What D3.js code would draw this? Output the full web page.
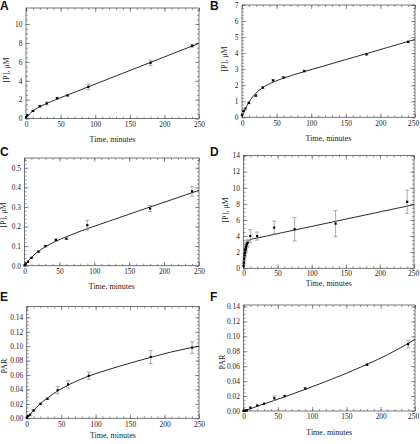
<!DOCTYPE html>
<html><head><meta charset="utf-8">
<script src="https://cdn.jsdelivr.net/npm/d3@7"></script>
<style>body{margin:0;background:#fff}svg{display:block}</style>
</head><body>
<svg id="c" width="420" height="444"></svg>
<script>
// ---------- shared ----------
const timeTicks = [0, 50, 100, 150, 200, 250];
const xLabel = "Time, minutes";
const yLabelP = "[P], \u03bcM";
const yLabelPAR = "PAR";

// ---------- Panel A ----------
const timesA = [0, 2, 10, 20, 30, 45, 60, 90, 180, 240];
const valuesA = [0.12, 0.35, 0.8, 1.3, 1.6, 2.15, 2.45, 3.35, 5.9, 7.7];
const errorsA = [0, 0, 0.05, 0.08, 0.15, 0.08, 0.08, 0.3, 0.28, 0.15];
const fitTimesA = [0, 2, 5, 10, 15, 20, 30, 45, 60, 90, 120, 150, 180, 210, 250];
const fitValuesA = [0, 0.21, 0.47, 0.8, 1.05, 1.25, 1.6, 2.05, 2.49, 3.35, 4.22, 5.08, 5.94, 6.81, 7.96];
const yTicksA = [0, 2, 4, 6, 8, 10];

// ---------- Panel B ----------
const timesB = [0, 2, 5, 10, 20, 30, 45, 60, 90, 180, 240];
const valuesB = [0.15, 0.4, 0.55, 0.9, 1.35, 1.85, 2.3, 2.48, 2.88, 3.93, 4.7];
const errorsB = [0, 0, 0, 0.05, 0.05, 0.05, 0.05, 0.05, 0.05, 0.05, 0.05];
const fitTimesB = [0, 2, 5, 10, 15, 20, 30, 45, 60, 90, 120, 150, 180, 210, 250];
const fitValuesB = [0, 0.23, 0.54, 0.94, 1.26, 1.5, 1.85, 2.19, 2.44, 2.85, 3.22, 3.6, 3.97, 4.35, 4.85];
const yTicksB = [0, 1, 2, 3, 4, 5, 6, 7];

// ---------- Panel C ----------
const timesC = [0, 2, 5, 10, 20, 30, 45, 60, 90, 180, 240];
const valuesC = [0.002, 0.01, 0.02, 0.04, 0.072, 0.1, 0.131, 0.138, 0.207, 0.292, 0.38];
const errorsC = [0, 0, 0, 0.003, 0.004, 0.004, 0.006, 0.004, 0.025, 0.015, 0.025];
const fitTimesC = [0, 2, 5, 10, 15, 20, 30, 45, 60, 90, 120, 150, 180, 210, 250];
const fitValuesC = [0, 0.0095, 0.023, 0.042, 0.059, 0.073, 0.097, 0.125, 0.148, 0.189, 0.226, 0.263, 0.3, 0.336, 0.385];
const yTicksC = [0, 0.1, 0.2, 0.3, 0.4, 0.5];

// ---------- Panel D ----------
const timesD = [0, 0.5, 1, 1.5, 2, 2.5, 3, 3.5, 4, 5, 6, 10, 20, 45, 75, 135, 240];
const valuesD = [0.3, 0.7, 1.2, 1.6, 1.9, 2.2, 2.4, 2.6, 2.8, 3.0, 3.15, 4.0, 4.0, 5.05, 4.85, 5.55, 8.25];
const errorsD = [0, 0.1, 0.15, 0.2, 0.3, 0.3, 0.3, 0.4, 0.4, 0.4, 0.4, 0.8, 0.5, 0.8, 1.45, 1.6, 1.45];
const fitTimesD = [0, 1, 2, 3, 4, 6, 8, 10, 15, 20, 50, 100, 150, 200, 250];
const fitValuesD = [0, 1.0, 1.8, 2.4, 2.8, 3.25, 3.45, 3.55, 3.68, 3.76, 4.3, 5.2, 6.1, 7.0, 7.9];
const yTicksD = [0, 2, 4, 6, 8, 10, 12, 14];

// ---------- Panel E ----------
const timesE = [0, 2, 5, 10, 20, 30, 45, 60, 90, 180, 240];
const valuesE = [0.001, 0.003, 0.005, 0.011, 0.02, 0.027, 0.039, 0.047, 0.059, 0.085, 0.098];
const errorsE = [0, 0, 0, 0.001, 0.001, 0.001, 0.005, 0.005, 0.005, 0.009, 0.008];
const fitTimesE = [0, 5, 10, 20, 30, 45, 60, 90, 120, 150, 180, 210, 250];
const fitValuesE = [0, 0.0055, 0.011, 0.0205, 0.028, 0.038, 0.046, 0.0585, 0.068, 0.0765, 0.0845, 0.092, 0.1];
const yTicksE = [0, 0.02, 0.04, 0.06, 0.08, 0.1, 0.12, 0.14];

// ---------- Panel F ----------
const timesF = [0, 2, 5, 10, 20, 30, 45, 60, 90, 180, 240];
const valuesF = [0, 0.0005, 0.001, 0.0045, 0.0075, 0.0098, 0.017, 0.02, 0.03, 0.062, 0.0895];
const errorsF = [0, 0, 0, 0, 0, 0, 0.003, 0.001, 0.001, 0.001, 0.005];
const fitTimesF = [0, 10, 30, 60, 90, 120, 150, 180, 210, 240, 250];
const fitValuesF = [0, 0.003, 0.0095, 0.019, 0.029, 0.0395, 0.0505, 0.0625, 0.0755, 0.0905, 0.096];
const yTicksF = [0, 0.02, 0.04, 0.06, 0.08, 0.1, 0.12, 0.14];

const panels = [
  {letter:"A", lx:0, ly:10, left:26, right:199, top:8, bottom:118.5, yMax:11.7, yMinor:0.5,
   yTicks:yTicksA, fmt:d3.format("d"), t:timesA, v:valuesA, e:errorsA, ft:fitTimesA, fv:fitValuesA,
   yLabel:yLabelP, ylx:7, yly:70, xly:140, xpad:3.2},
  {letter:"B", lx:210, ly:10, left:242, right:415, top:5, bottom:117.3, yMax:7, yMinor:0.2,
   yTicks:yTicksB, fmt:d3.format("d"), t:timesB, v:valuesB, e:errorsB, ft:fitTimesB, fv:fitValuesB,
   yLabel:yLabelP, ylx:225, yly:59, xly:139.3, xpad:3.2},
  {letter:"C", lx:0, ly:156, left:24.5, right:199, top:158, bottom:265.7, yMax:0.55, yMinor:0.02,
   yTicks:yTicksC, fmt:d3.format(".1f"), t:timesC, v:valuesC, e:errorsC, ft:fitTimesC, fv:fitValuesC,
   yLabel:yLabelP, ylx:4, yly:215, xly:286.7, xpad:3.2},
  {letter:"D", lx:210, ly:156, left:243.5, right:414, top:155.5, bottom:268.3, yMax:14, yMinor:0.5,
   yTicks:yTicksD, fmt:d3.format("d"), t:timesD, v:valuesD, e:errorsD, ft:fitTimesD, fv:fitValuesD,
   yLabel:yLabelP, ylx:226, yly:210, xly:284, xpad:2},
  {letter:"E", lx:0, ly:301, left:26.7, right:199, top:306.5, bottom:418.3, yMax:0.155, yMinor:0.005,
   yTicks:yTicksE, fmt:d3.format(".2f"), t:timesE, v:valuesE, e:errorsE, ft:fitTimesE, fv:fitValuesE,
   yLabel:yLabelPAR, ylx:5, yly:366, xly:436, xpad:3.2},
  {letter:"F", lx:210, ly:301, left:243.5, right:415, top:305, bottom:411, yMax:0.142, yMinor:0.005,
   yTicks:yTicksF, fmt:d3.format(".2f"), t:timesF, v:valuesF, e:errorsF, ft:fitTimesF, fv:fitValuesF,
   yLabel:yLabelPAR, ylx:223, yly:362, xly:433.3, xpad:3.2}
];

const svg = d3.select("#c");
const serif = "'Liberation Serif','DejaVu Serif',serif";
const frameCol = "#555";

function styleAxis(sel, labels) {
  sel.select(".domain").remove();
  sel.selectAll("line").attr("stroke", frameCol).attr("stroke-width", 0.6);
  sel.selectAll("text").attr("font-family", serif).attr("font-size", 7.4).attr("fill", "#222");
  if (!labels) sel.selectAll("text").remove();
}

panels.forEach(p => {
  const x = d3.scaleLinear().domain([0, 250]).range([p.left, p.right]);
  const y = d3.scaleLinear().domain([0, p.yMax]).range([p.bottom, p.top]);
  const g = svg.append("g");
  const minorX = d3.range(0, 250.0001, 10);
  const minorY = d3.range(0, p.yMax + 1e-9, p.yMinor);

  // minor ticks (all sides)
  g.append("g").attr("transform", `translate(0,${p.bottom})`)
    .call(d3.axisBottom(x).tickValues(minorX).tickSizeInner(-2).tickSizeOuter(0).tickFormat(""))
    .call(s => styleAxis(s, false));
  g.append("g").attr("transform", `translate(0,${p.top})`)
    .call(d3.axisTop(x).tickValues(minorX).tickSizeInner(-2).tickSizeOuter(0).tickFormat(""))
    .call(s => styleAxis(s, false));
  g.append("g").attr("transform", `translate(${p.left},0)`)
    .call(d3.axisLeft(y).tickValues(minorY).tickSizeInner(-2).tickSizeOuter(0).tickFormat(""))
    .call(s => styleAxis(s, false));
  g.append("g").attr("transform", `translate(${p.right},0)`)
    .call(d3.axisRight(y).tickValues(minorY).tickSizeInner(-2).tickSizeOuter(0).tickFormat(""))
    .call(s => styleAxis(s, false));

  // major ticks
  const bx = g.append("g").attr("transform", `translate(0,${p.bottom})`)
    .call(d3.axisBottom(x).tickValues(timeTicks).tickSizeInner(-4).tickSizeOuter(0).tickPadding(p.xpad).tickFormat(d3.format("d")))
    .call(s => styleAxis(s, true));
  g.append("g").attr("transform", `translate(0,${p.top})`)
    .call(d3.axisTop(x).tickValues(timeTicks).tickSizeInner(-4).tickSizeOuter(0).tickFormat(""))
    .call(s => styleAxis(s, false));
  g.append("g").attr("transform", `translate(${p.left},0)`)
    .call(d3.axisLeft(y).tickValues(p.yTicks).tickSizeInner(-4).tickSizeOuter(0).tickPadding(3.5).tickFormat(p.fmt))
    .call(s => styleAxis(s, true));
  g.append("g").attr("transform", `translate(${p.right},0)`)
    .call(d3.axisRight(y).tickValues(p.yTicks).tickSizeInner(-4).tickSizeOuter(0).tickFormat(""))
    .call(s => styleAxis(s, false));

  // keep the last x tick label inside the window
  bx.selectAll("text").each(function () {
    const b = this.getBBox();
    const tr = this.parentNode.getAttribute("transform");
    const tx = +tr.match(/translate\(([-\d.]+)/)[1];
    const over = tx + b.x + b.width - 419.5;
    if (over > 0) d3.select(this).attr("dx", -over);
  });

  // frame
  g.append("rect").attr("x", p.left).attr("y", p.top)
    .attr("width", p.right - p.left).attr("height", p.bottom - p.top)
    .attr("fill", "none").attr("stroke", frameCol).attr("stroke-width", 0.8);

  // fit line
  const fit = p.ft.map((t, i) => [t, p.fv[i]]);
  g.append("path").datum(fit)
    .attr("d", d3.line().x(d => x(d[0])).y(d => y(d[1])).curve(d3.curveMonotoneX))
    .attr("fill", "none").attr("stroke", "#111").attr("stroke-width", 0.9);

  // error bars
  const pts = p.t.map((t, i) => ({t, v: p.v[i], e: p.e[i]}));
  const eb = g.append("g").attr("stroke", "#888").attr("stroke-width", 0.7);
  pts.filter(d => d.e > 0).forEach(d => {
    eb.append("line").attr("x1", x(d.t)).attr("x2", x(d.t)).attr("y1", y(d.v - d.e)).attr("y2", y(d.v + d.e));
    eb.append("line").attr("x1", x(d.t) - 2).attr("x2", x(d.t) + 2).attr("y1", y(d.v - d.e)).attr("y2", y(d.v - d.e));
    eb.append("line").attr("x1", x(d.t) - 2).attr("x2", x(d.t) + 2).attr("y1", y(d.v + d.e)).attr("y2", y(d.v + d.e));
  });

  // points
  g.selectAll("rect.pt").data(pts).enter().append("rect").attr("class", "pt")
    .attr("x", d => x(d.t) - 1.1).attr("y", d => y(d.v) - 1.1)
    .attr("width", 2.2).attr("height", 2.2).attr("fill", "#000");

  // axis labels
  g.append("text").attr("x", (p.left + p.right) / 2).attr("y", p.xly)
    .attr("text-anchor", "middle").attr("dominant-baseline", "middle")
    .attr("font-family", serif).attr("font-size", 8).attr("fill", "#222").text(xLabel);
  g.append("text").attr("transform", `translate(${p.ylx},${p.yly}) rotate(-90)`)
    .attr("text-anchor", "middle").attr("dominant-baseline", "middle")
    .attr("font-family", serif).attr("font-size", 8).attr("fill", "#222").text(p.yLabel);

  // panel letter
  svg.append("text").attr("x", p.lx).attr("y", p.ly)
    .attr("font-family", "'Liberation Sans',Arial,sans-serif").attr("font-weight", "bold")
    .attr("font-size", 12).attr("fill", "#111").text(p.letter);
});
</script>
</body></html>
